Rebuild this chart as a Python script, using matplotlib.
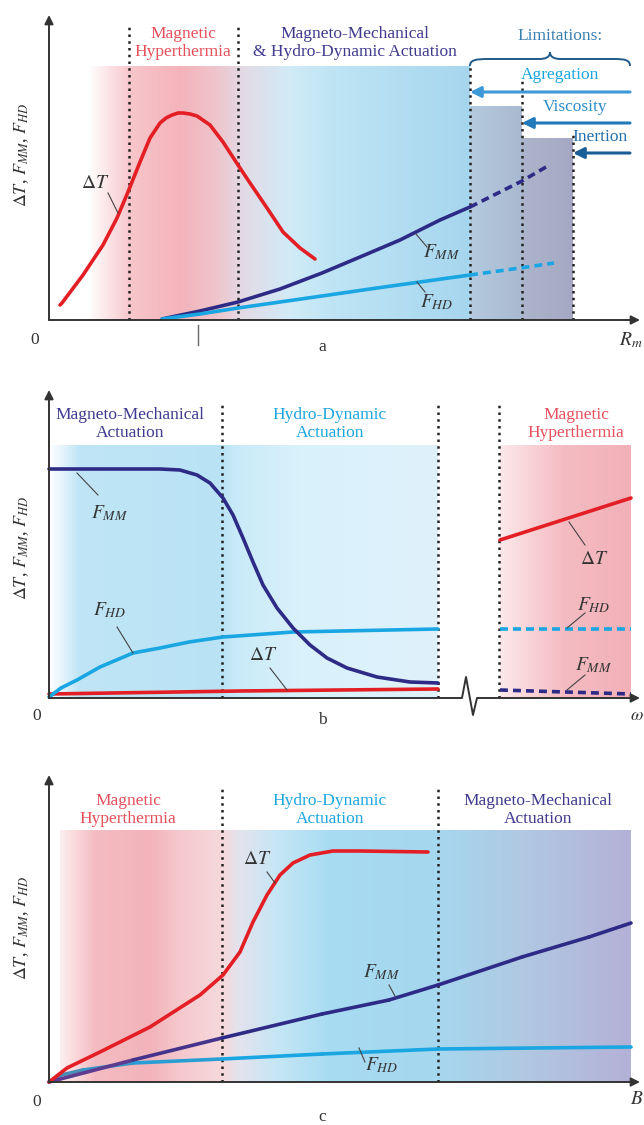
"""
Schematic: dT, F_MM, F_HD vs particle size (a), frequency (b) and field (c)
"""

import numpy as np
import matplotlib.pyplot as plt
from matplotlib.path import Path
from matplotlib.patches import PathPatch
from matplotlib.collections import LineCollection
from matplotlib.colors import to_rgb

plt.rcParams['font.family'] = ['Liberation Serif', 'DejaVu Serif']
plt.rcParams['mathtext.fontset'] = 'stix'

RED, NAVY, SKY = '#e31e24', '#2e2b87', '#19a6e2'
TXT_RED, TXT_NAVY, TXT_SKY = '#e5505c', '#3f3a8e', '#1aa6df'

# ---- panel a : vs R_m ----
a_dT_x = [11, 13, 34, 54, 68, 79, 91, 101, 111, 117, 123, 129, 134, 141, 148, 161, 174, 189, 201, 218, 234, 251, 266]
a_dT_y = [15, 17, 45, 75, 102, 128, 158, 182, 197, 202, 205, 207, 207, 206, 204, 195, 178, 155, 137, 112, 88, 72, 61]
a_mm_x = [113, 151, 189, 231, 273, 311, 351, 391, 421]
a_mm_y = [1, 9, 18, 31, 47, 63, 80, 100, 113]
a_mm_dash_x = [421, 451, 473, 497]
a_mm_dash_y = [113, 128, 139, 153]
a_hd_x = [113, 151, 189, 231, 273, 321, 371, 421]
a_hd_y = [1, 6, 12, 18, 24, 31, 38, 45]
a_hd_dash_x = [421, 471, 505]
a_hd_dash_y = [45, 52, 57]
a_limits = ['Agregation', 'Viscosity', 'Inertion']
a_limit_x = [421, 473, 524]          # where each limitation starts
a_box_top = [213, 181]

# ---- panel b : vs omega ----
b_mm_x = [0, 111, 131, 148, 161, 174, 184, 194, 204, 214, 228, 244, 261, 278, 298, 328, 361, 389]
b_mm_y = [229, 229, 228, 223, 215, 200, 183, 160, 136, 113, 90, 70, 53, 40, 30, 21, 16, 15]
b_hd_x = [0, 12, 28, 51, 84, 111, 140, 174, 244, 389]
b_hd_y = [1, 10, 18, 31, 45, 50, 56, 61, 66, 69]
b_dT_x = [0, 191, 389]
b_dT_y = [4, 7, 9]
b_dT_hi_x = [451, 582]
b_dT_hi_y = [158, 200]
b_hd_hi_y = [69, 69]
b_mm_hi_y = [8, 4]

# ---- panel c : vs B ----
c_dT_x = [0, 18, 51, 101, 151, 174, 191, 204, 218, 231, 244, 261, 284, 311, 379]
c_dT_y = [0, 14, 30, 55, 87, 107, 130, 160, 187, 207, 219, 227, 231, 231, 230]
c_mm_x = [0, 84, 173, 273, 340, 389, 473, 540, 582]
c_mm_y = [0, 22, 44, 68, 82, 97, 125, 145, 159]
c_hd_x = [0, 12, 34, 84, 173, 273, 389, 582]
c_hd_y = [0, 7, 12, 19, 23, 28, 33, 35]

W, H = 644, 1125
fig = plt.figure(figsize=(W / 100, H / 100), dpi=100)


def panel(top_px, bot_px, origin_py):
    ax = fig.add_axes([0, 1 - bot_px / H, 1, (bot_px - top_px) / H])
    ax.set_axis_off()
    ax.lims = ((-49, W - 49), (origin_py - bot_px, origin_py - top_px))
    return ax


def finish(ax):
    ax.set_xlim(*ax.lims[0])
    ax.set_ylim(*ax.lims[1])


def gradient(ax, x0, x1, top, stops):
    xs = np.linspace(x0, x1, 400)
    sx = [s[0] for s in stops]
    cols = np.array([to_rgb(s[1]) for s in stops])
    img = np.stack([np.interp(xs, sx, cols[:, i]) for i in range(3)], axis=-1)[None]
    ax.imshow(img, extent=[x0, x1, 0, top], aspect='auto',
              interpolation='bilinear', zorder=0)


def vdots(ax, x, top):
    ax.plot([x, x], [0, top], color='#222222', lw=1.8,
            ls=(0, (1.0, 1.7)), zorder=3, solid_capstyle='butt')


def axis_arrows(ax, xtip, ytip, xaxis=True):
    kw = dict(arrowstyle='-|>', color='#333333', lw=1.4, mutation_scale=13,
              shrinkA=0, shrinkB=0)
    if xaxis:
        ax.annotate('', xy=(xtip, 0), xytext=(0, 0), arrowprops=kw, zorder=5)
    ax.annotate('', xy=(0, ytip), xytext=(0, 0), arrowprops=kw, zorder=5)


def leader(ax, p, q):
    ax.plot([p[0], q[0]], [p[1], q[1]], color='#444444', lw=0.8, zorder=4)


def label(ax, x, y, s):
    ax.text(x, y, s, fontsize=14, ha='center', va='center', color='#333333', zorder=6)


def heading(ax, x, y, s, c):
    ax.text(x, y, s, fontsize=12.5, ha='center', va='center', color=c,
            linespacing=1.15, zorder=6)


def grad_line(ax, xs, ys, c0, c1, n_fade):
    pts = np.column_stack([xs, ys])
    segs = np.stack([pts[:-1], pts[1:]], axis=1)
    k = len(segs)
    a0, a1 = np.array(to_rgb(c0)), np.array(to_rgb(c1))
    cols = [a0 + (a1 - a0) * min(i / n_fade, 1) for i in range(k)]
    lc = LineCollection(segs, colors=cols, linewidths=2.6, capstyle='round',
                        joinstyle='round', zorder=4)
    ax.add_collection(lc)


ylab = r'$\Delta T$, $F_{MM}$, $F_{HD}$'
line_kw = dict(lw=2.6, solid_capstyle='round', solid_joinstyle='round', zorder=4)
dash_kw = dict(lw=2.6, ls=(0, (2.2, 1.4)), zorder=4)

# ================= panel a =================
ax = panel(0, 360, 320)
gradient(ax, 39, 421, 253, [(39, '#ffffff'), (81, '#f7c6cb'), (131, '#f4b3ba'),
                            (166, '#efc4cb'), (196, '#e2dbe6'), (241, '#d1ebf7'),
                            (281, '#bfe5f5'), (421, '#a6d6ee')])
gradient(ax, a_limit_x[0], a_limit_x[1], a_box_top[0], [(a_limit_x[0], '#b4cadf'), (a_limit_x[1], '#a9b9d0')])
gradient(ax, a_limit_x[1], a_limit_x[2], a_box_top[1], [(a_limit_x[1], '#acb5cc'), (a_limit_x[2], '#a6a8c3')])
vdots(ax, 80, 295)
vdots(ax, 189, 295)
vdots(ax, a_limit_x[0], 253)
vdots(ax, a_limit_x[1], 242)
vdots(ax, a_limit_x[2], 187)

ax.plot(a_dT_x, a_dT_y, color=RED, **line_kw)
ax.plot(a_mm_x, a_mm_y, color=NAVY, **line_kw)
ax.plot(a_mm_dash_x, a_mm_dash_y, color=NAVY, **dash_kw)
ax.plot(a_hd_x, a_hd_y, color=SKY, **line_kw)
ax.plot(a_hd_dash_x, a_hd_dash_y, color=SKY, **dash_kw)

heading(ax, 134, 277, 'Magnetic\nHyperthermia', TXT_RED)
heading(ax, 306, 277, 'Magneto-Mechanical\n& Hydro-Dynamic Actuation', TXT_NAVY)
heading(ax, 511, 284, 'Limitations:', '#3a7fb0')

brace = Path([(421, 254), (421, 260), (426, 261), (440, 261), (490, 261),
              (497, 261), (501, 263), (501, 268), (501, 263), (505, 261), (512, 261),
              (565, 261), (576, 261), (581, 260), (581, 254)],
             [Path.MOVETO, Path.CURVE4, Path.CURVE4, Path.CURVE4, Path.LINETO,
              Path.CURVE4, Path.CURVE4, Path.CURVE4, Path.CURVE4, Path.CURVE4, Path.CURVE4,
              Path.LINETO, Path.CURVE4, Path.CURVE4, Path.CURVE4])
ax.add_patch(PathPatch(brace, fc='none', ec='#1f5a8a', lw=1.4, zorder=5))

lim_text_x = [511, 526, 551]
lim_text_y = [245, 213, 183]
lim_arrow_y = [228, 197, 167]
lim_cols = ['#3d9ad6', '#2079b9', '#1a5e98']
lim_txt_cols = [TXT_SKY, '#2a8cc8', '#2370ad']
for name, x0, tx, ty, ay, c, tc in zip(a_limits, a_limit_x, lim_text_x, lim_text_y,
                                       lim_arrow_y, lim_cols, lim_txt_cols):
    ax.text(tx, ty, name, fontsize=12.5, ha='center', va='center', color=tc, zorder=6)
    ax.annotate('', xy=(x0, ay), xytext=(581, ay),
                arrowprops=dict(arrowstyle='-|>', color=c, lw=2.2, mutation_scale=16,
                                shrinkA=0, shrinkB=0), zorder=5)

label(ax, 46, 137, r'$\Delta T$')
leader(ax, (59, 127), (69, 107))
label(ax, 393, 68, r'$F_{MM}$')
leader(ax, (367, 86), (378, 73))
label(ax, 388, 18, r'$F_{HD}$')
leader(ax, (368, 38), (376, 28))
ax.plot([149, 149], [-5, -25], color='#666666', lw=1.0)

axis_arrows(ax, 591, 305)
ax.text(-14, -20, '0', fontsize=12.5, ha='center', va='center', color='#333333')
ax.text(273, -27, 'a', fontsize=12.5, ha='center', va='center', color='#333333')
ax.text(594, -20, r'$R_m$', fontsize=14, ha='right', va='center', color='#333333')
ax.text(-27, 165, ylab, fontsize=13, rotation=90, ha='center', va='center', color='#333333')
finish(ax)

# ================= panel b =================
ax = panel(360, 740, 698)
gradient(ax, 0, 389, 253, [(0, '#ffffff'), (12, '#e6f5fc'), (30, '#bfe5f6'),
                           (173, '#b9e3f5'), (185, '#c8eaf8'), (250, '#d9f1fb'),
                           (389, '#dff2fb')])
gradient(ax, 451, 582, 253, [(451, '#fce9eb'), (480, '#f9d3d7'), (515, '#f4bcc2'),
                             (582, '#f2b0b7')])
for xv in [173, 389, 450]:
    vdots(ax, xv, 294)

ax.plot(b_dT_x, b_dT_y, color=RED, **line_kw)
ax.plot(b_hd_x, b_hd_y, color=SKY, **line_kw)
ax.plot(b_mm_x, b_mm_y, color=NAVY, **line_kw)
ax.plot(b_dT_hi_x, b_dT_hi_y, color=RED, **line_kw)
ax.plot(b_dT_hi_x, b_hd_hi_y, color=SKY, **dash_kw)
ax.plot(b_dT_hi_x, b_mm_hi_y, color=NAVY, **dash_kw)

heading(ax, 81, 274, 'Magneto-Mechanical\nActuation', TXT_NAVY)
heading(ax, 281, 274, 'Hydro-Dynamic\nActuation', TXT_SKY)
heading(ax, 527, 274, 'Magnetic\nHyperthermia', TXT_RED)

label(ax, 61, 185, r'$F_{MM}$')
leader(ax, (28, 225), (49, 203))
label(ax, 61, 88, r'$F_{HD}$')
leader(ax, (68, 71), (84, 45))
label(ax, 214, 43, r'$\Delta T$')
leader(ax, (221, 30), (238, 8))
label(ax, 545, 138, r'$\Delta T$')
leader(ax, (520, 176), (536, 153))
label(ax, 545, 93, r'$F_{HD}$')
leader(ax, (536, 85), (518, 70))
label(ax, 545, 33, r'$F_{MM}$')
leader(ax, (536, 23), (518, 8))

ax.plot([0, 413, 417, 424, 428, 575], [0, 0, 21, -17, 0, 0], color='#333333', lw=1.4, zorder=5)
ax.annotate('', xy=(591, 0), xytext=(570, 0),
            arrowprops=dict(arrowstyle='-|>', color='#333333', lw=1.4, mutation_scale=13,
                            shrinkA=0, shrinkB=0), zorder=5)
axis_arrows(ax, 591, 308, xaxis=False)
ax.text(-12, -18, '0', fontsize=12.5, ha='center', va='center', color='#333333')
ax.text(273, -22, 'b', fontsize=12.5, ha='center', va='center', color='#333333')
ax.text(588, -18, r'$\omega$', fontsize=13, ha='center', va='center', color='#333333')
ax.text(-27, 150, ylab, fontsize=13, rotation=90, ha='center', va='center', color='#333333')
finish(ax)

# ================= panel c =================
ax = panel(740, 1125, 1082)
gradient(ax, 11, 582, 252, [(11, '#fdeeee'), (45, '#f4bcc2'), (100, '#f2b3ba'),
                            (130, '#f5c8cc'), (173, '#f6d9dc'), (190, '#e3e3ee'),
                            (230, '#c4e6f5'), (280, '#a8dcf2'), (390, '#a5d7ef'),
                            (470, '#b0c9e3'), (582, '#b4b1d6')])
for xv in [173, 389]:
    vdots(ax, xv, 294)

grad_line(ax, c_hd_x, c_hd_y, '#5a86aa', SKY, 4)
grad_line(ax, c_mm_x, c_mm_y, '#5e3a90', NAVY, 2)
ax.plot(c_dT_x, c_dT_y, color=RED, **line_kw)

heading(ax, 79, 272, 'Magnetic\nHyperthermia', TXT_RED)
heading(ax, 281, 272, 'Hydro-Dynamic\nActuation', TXT_SKY)
heading(ax, 489, 272, 'Magneto-Mechanical\nActuation', TXT_NAVY)

label(ax, 208, 222, r'$\Delta T$')
leader(ax, (218, 210), (226, 199))
label(ax, 333, 110, r'$F_{MM}$')
leader(ax, (340, 97), (346, 86))
label(ax, 333, 17, r'$F_{HD}$')
leader(ax, (310, 34), (316, 20))

axis_arrows(ax, 591, 307)
ax.text(-12, -20, '0', fontsize=12.5, ha='center', va='center', color='#333333')
ax.text(273, -35, 'c', fontsize=12.5, ha='center', va='center', color='#333333')
ax.text(588, -18, r'$B$', fontsize=14, ha='center', va='center', color='#333333')
ax.text(-27, 154, ylab, fontsize=13, rotation=90, ha='center', va='center', color='#333333')
finish(ax)

plt.savefig('out.png', dpi=100)
